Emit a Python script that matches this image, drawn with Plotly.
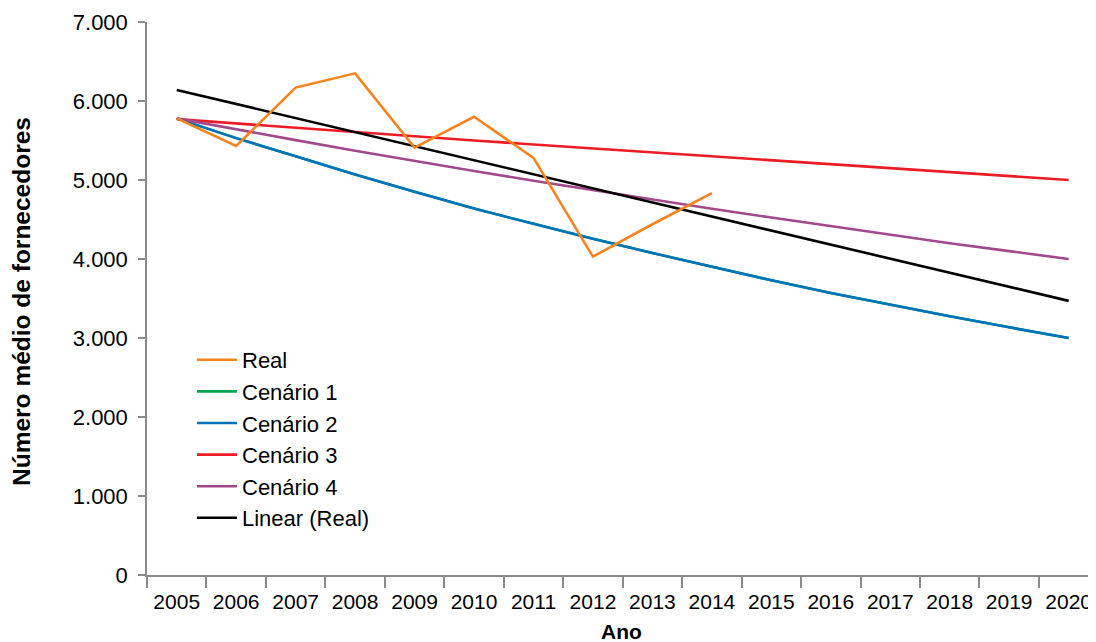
import plotly.graph_objects as go

years = [str(y) for y in range(2005, 2021)]
real_years = years[:10]
real = [5780, 5430, 6170, 6350, 5410, 5800, 5280, 4030, 4440, 4835]
cenario1 = [5780, 5530, 5300, 5070, 4850, 4640, 4445, 4255, 4075, 3900, 3730, 3570, 3420, 3275, 3135, 3000]
cenario2 = [5780, 5530, 5300, 5070, 4850, 4640, 4445, 4255, 4075, 3900, 3730, 3570, 3420, 3275, 3135, 3000]
cenario3 = [5770, 5715, 5660, 5605, 5555, 5500, 5450, 5400, 5345, 5295, 5245, 5195, 5145, 5095, 5050, 5000]
cenario4 = [5780, 5640, 5505, 5370, 5240, 5115, 4990, 4870, 4750, 4635, 4525, 4415, 4305, 4200, 4100, 4000]
linear_years = ["2005", "2020"]
linear_real = [6140, 3470]

FONT = "Liberation Sans, Arial, sans-serif"
W = 2.6
OFF = 8  # page body margin
FW, FH = 1096 - OFF, 642 - OFF
# desired page-pixel plot box: left 147, right 1096, top 22, bottom 575
L, R, T = 147 - OFF, 0, 22 - OFF
B = FH - (575 - OFF)
PW = FW - L - R
PH = FH - T - B


def px_x(page_x):
    return (page_x - OFF - L) / PW


def px_y(page_y):
    return (FH - B - (page_y - OFF)) / PH


fig = go.Figure()
# drawing order: scenarios first, Real on top
fig.add_trace(go.Scatter(x=years, y=cenario1, mode="lines", name="Cenário 1", legendrank=2,
                         line=dict(color="#00A651", width=W)))
fig.add_trace(go.Scatter(x=years, y=cenario2, mode="lines", name="Cenário 2", legendrank=3,
                         line=dict(color="#0072BC", width=W)))
fig.add_trace(go.Scatter(x=years, y=cenario3, mode="lines", name="Cenário 3", legendrank=4,
                         line=dict(color="#ED1C24", width=W)))
fig.add_trace(go.Scatter(x=years, y=cenario4, mode="lines", name="Cenário 4", legendrank=5,
                         line=dict(color="#A3498B", width=W)))
fig.add_trace(go.Scatter(x=linear_years, y=linear_real, mode="lines", name="Linear (Real)", legendrank=6,
                         line=dict(color="#000000", width=W)))
fig.add_trace(go.Scatter(x=real_years, y=real, mode="lines", name="Real", legendrank=1,
                         line=dict(color="#F5841F", width=W)))

fig.update_layout(
    width=FW, height=FH,
    margin=dict(l=L, r=R, t=T, b=B, autoexpand=False),
    paper_bgcolor="white", plot_bgcolor="white",
    separators=",.",
    font=dict(family=FONT, size=21, color="black"),
    showlegend=True,
    legend=dict(x=px_x(192), y=px_y(339), xanchor="left", yanchor="top",
                font=dict(size=22, family=FONT, color="black"), bgcolor="rgba(0,0,0,0)",
                traceorder="normal", tracegroupgap=0, itemwidth=40),
    xaxis=dict(type="category", categoryorder="array", categoryarray=years,
               range=[-0.5, 15.46], tickson="boundaries", ticks="outside",
               ticklen=11, tickcolor="#8a8a8a", tickwidth=1.5,
               showline=True, linecolor="#8a8a8a", linewidth=1.5,
               showgrid=False, zeroline=False, automargin=False,
               ticklabelstandoff=7,
               tickfont=dict(size=21, family=FONT, color="black")),
    yaxis=dict(range=[0, 7000], dtick=1000, tickformat=",d",
               ticks="outside", ticklen=7, tickcolor="#8a8a8a", tickwidth=1.5,
               showline=True, linecolor="#8a8a8a", linewidth=1.5,
               showgrid=False, zeroline=False, automargin=False,
               ticklabelstandoff=6,
               tickfont=dict(size=22, family=FONT, color="black")),
    annotations=[
        dict(text="<b>Ano</b>", xref="paper", yref="paper",
             x=px_x(621), y=px_y(631),
             xanchor="center", yanchor="middle", showarrow=False,
             font=dict(size=21, family=FONT, color="black")),
        dict(text="<b>Número médio de fornecedores</b>", xref="paper", yref="paper",
             x=px_x(21), y=px_y(302),
             xanchor="center", yanchor="middle", showarrow=False, textangle=-90,
             font=dict(size=24.5, family=FONT, color="black")),
    ],
)

fig.write_html("out.html")
